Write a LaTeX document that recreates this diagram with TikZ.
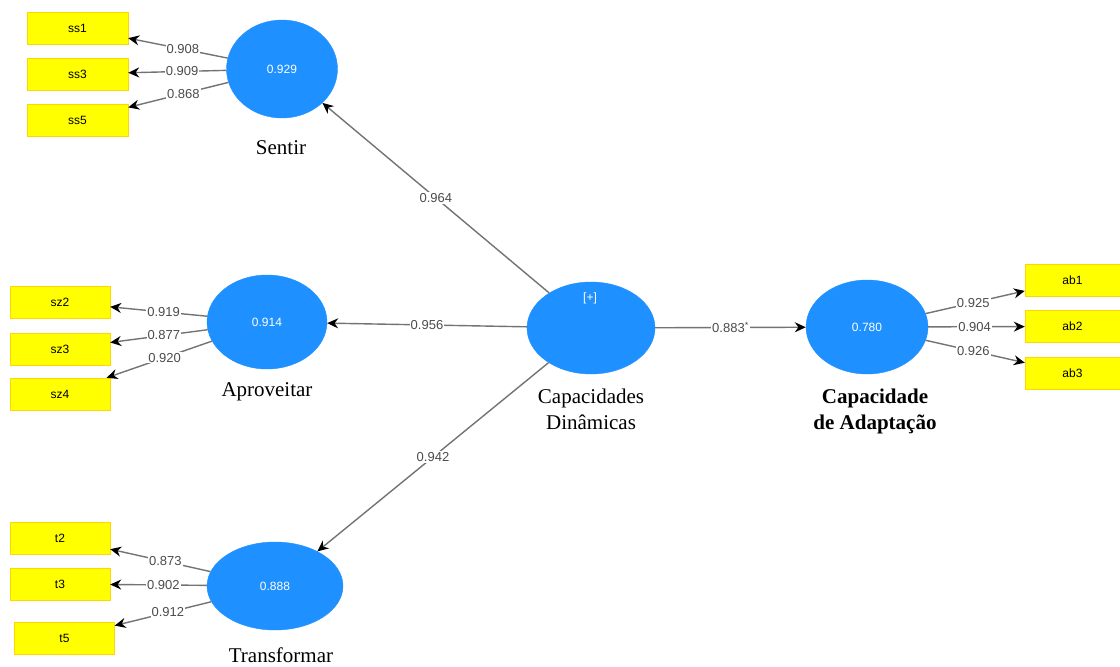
\documentclass[tikz,border=0pt]{standalone}
\usepackage{fontspec}
\setmainfont{Liberation Serif}
\newfontfamily\numfont{Liberation Sans}
\usepackage{xcolor}
\usetikzlibrary{shapes.geometric, positioning, arrows.meta}
\definecolor{lvblue}{RGB}{30,144,255}
\definecolor{indyellow}{RGB}{255,255,0}

\tikzset{
  latent/.style={ellipse, fill=lvblue, draw=lvblue, inner sep=0pt, text=white,
    font=\numfont\fontsize{12}{12}\selectfont},
  indicator/.style={rectangle, fill=indyellow, draw=yellow!75!orange, inner sep=0pt,
    minimum width=101pt, minimum height=32pt, font=\numfont\fontsize{12}{12}\selectfont},
  caption/.style={align=center, font=\fontsize{21}{26}\selectfont},
  load/.style={fill=white, inner sep=1pt, text=black!70, font=\numfont\fontsize{13}{13}\selectfont}
}

\begin{document}
\begin{tikzpicture} [x=1pt, y=-1pt]
        \useasboundingbox (0,0) rectangle (1120,667);
        % latent variables
        \node (SEN)[latent, minimum width=111pt, minimum height=98pt] at (282,69) {0.929};
        \node (APR)[latent, minimum width=120pt, minimum height=94pt] at (267,322) {0.914};
        \node (TRA)[latent, minimum width=136pt, minimum height=88pt] at (275,586) {0.888};
        \node (CD)[latent, minimum width=128pt, minimum height=92pt] at (591,328) {};
        \node (CDsign)[text=white, font=\numfont\fontsize{12}{12}\selectfont] at (590,298) {[+]};
        \node (CA)[latent, minimum width=122pt, minimum height=94pt] at (867,327) {0.780};
        \node (SENcap)[caption] at (281,148) {Sentir};
        \node (APRcap)[caption] at (267,392) {Aproveitar};
        \node (TRAcap)[caption] at (281,655) {Transformar};
        \node (CDcap)[caption] at (591,409) {Capacidades\\Dinâmicas};
        \node (CAcap)[caption, font=\bfseries\fontsize{21}{26}\selectfont] at (875,411) {Capacidade\\de Adaptação};
        % indicators
        \node (ss1)[indicator] at (77.5,28) {ss1};
        \node (ss3)[indicator] at (77.5,74) {ss3};
        \node (ss5)[indicator] at (77.5,120) {ss5};
        \node (sz2)[indicator, minimum width=100pt] at (60,302) {sz2};
        \node (sz3)[indicator, minimum width=100pt] at (60,349) {sz3};
        \node (sz4)[indicator, minimum width=100pt] at (60,394) {sz4};
        \node (t2)[indicator, minimum width=100pt] at (60,538) {t2};
        \node (t3)[indicator, minimum width=100pt] at (60,584) {t3};
        \node (t5)[indicator, minimum width=100pt] at (64.5,638) {t5};
        \node (ab1)[indicator, minimum width=95pt] at (1072.5,280) {ab1};
        \node (ab2)[indicator, minimum width=95pt] at (1072.5,326.5) {ab2};
        \node (ab3)[indicator, minimum width=95pt] at (1072.5,373.5) {ab3};
        % paths
        \path [draw=black!55, line width=1.4pt, -{Stealth[black, length=11pt, width=10pt]}]
        (CD) edge node[load] {0.964} (SEN)
        (CD) edge node[load] {0.956} (APR)
        (CD) edge node[load] {0.942} (TRA)
        (CD) edge node[load] {0.883\textsuperscript{*}} (CA)
        (SEN) edge node[load, pos=0.45] {0.908} (ss1)
        (SEN) edge node[load, pos=0.45] {0.909} (ss3)
        (SEN) edge node[load, pos=0.45] {0.868} (ss5)
        (APR) edge node[load, pos=0.45] {0.919} (sz2)
        (APR) edge node[load, pos=0.45] {0.877} (sz3)
        (APR) edge node[load, pos=0.45] {0.920} (sz4)
        (TRA) edge node[load, pos=0.45] {0.873} (t2)
        (TRA) edge node[load, pos=0.45] {0.902} (t3)
        (TRA) edge node[load, pos=0.45] {0.912} (t5)
        (CA) edge node[load, pos=0.48] {0.925} (ab1)
        (CA) edge node[load, pos=0.48] {0.904} (ab2)
        (CA) edge node[load, pos=0.48] {0.926} (ab3);
    \end{tikzpicture}
\end{document}
